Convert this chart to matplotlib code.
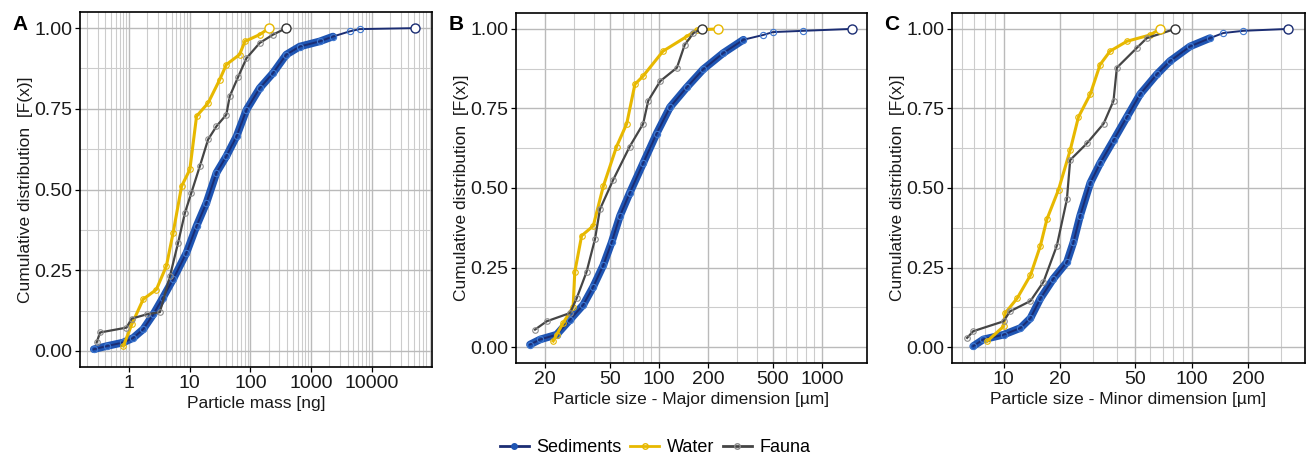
import numpy as np
import matplotlib
matplotlib.use("Agg")
import matplotlib.pyplot as plt
from matplotlib.ticker import FixedLocator, NullFormatter, FixedFormatter
from matplotlib.lines import Line2D

plt.rcParams['font.family'] = ['Liberation Sans', 'DejaVu Sans']

# ---- Panel A: particle mass [ng] ----
mass_sed_x = [0.26, 0.43, 0.8, 1.16, 1.7, 2.49, 3.6, 5.3, 8.8, 12.9, 18.8, 27.5, 40, 59, 86,
              142, 236, 390, 650, 1390, 2300, 4340, 6340, 51000]
mass_sed_f = [0.005, 0.015, 0.026, 0.04, 0.067, 0.113, 0.165, 0.222, 0.304, 0.387, 0.459, 0.552,
              0.603, 0.665, 0.747, 0.814, 0.861, 0.918, 0.943, 0.959, 0.974, 0.99, 0.997, 1.0]
mass_wat_x = [0.8, 1.1, 1.7, 2.8, 4.1, 5.3, 7.3, 10, 12.9, 20, 31, 40, 66, 81, 142, 203]
mass_wat_f = [0.015, 0.082, 0.16, 0.19, 0.263, 0.366, 0.51, 0.562, 0.727, 0.768, 0.84, 0.887,
              0.918, 0.959, 0.98, 1.0]
mass_fau_x = [0.29, 0.33, 0.9, 1.1, 1.93, 3.2, 4.7, 6.4, 8.3, 10.6, 14.6, 20, 27.5, 40, 45.5,
              63, 86, 142, 236, 390]
mass_fau_f = [0.026, 0.057, 0.072, 0.1, 0.113, 0.12, 0.232, 0.335, 0.428, 0.49, 0.572, 0.655,
              0.696, 0.732, 0.789, 0.85, 0.907, 0.954, 0.98, 1.0]

# ---- Panel B: major dimension [um] ----
major_sed_x = [16.2, 18.7, 23.6, 28.5, 34.4, 39.6, 45.6, 51.3, 57.7, 66.2, 80.1, 96.8, 117, 148,
               187, 248, 330, 437, 500, 769, 1524]
major_sed_f = [0.008, 0.024, 0.039, 0.086, 0.133, 0.19, 0.257, 0.329, 0.412, 0.484, 0.578, 0.671,
               0.754, 0.816, 0.873, 0.924, 0.966, 0.981, 0.99, 0.994, 1.0]
major_wat_x = [22.5, 23.6, 25.9, 29.8, 30.5, 33.6, 39.6, 45.6, 55, 63.5, 71.3, 80.1, 106, 148,
               171, 231]
major_wat_f = [0.019, 0.039, 0.076, 0.127, 0.236, 0.35, 0.381, 0.505, 0.63, 0.702, 0.826, 0.852,
               0.93, 0.976, 0.997, 1.0]
major_fau_x = [17.4, 20.5, 28.5, 31.3, 36, 40.6, 43.5, 52.5, 66.2, 80.1, 86, 102, 129, 144, 163, 183]
major_fau_f = [0.055, 0.081, 0.107, 0.153, 0.236, 0.34, 0.433, 0.526, 0.63, 0.702, 0.774, 0.836,
               0.878, 0.95, 0.987, 1.0]

# ---- Panel C: minor dimension [um] ----
minor_sed_x = [6.9, 7.8, 10, 12.3, 13.9, 15.7, 18.4, 21.7, 23.5, 25.5, 28.9, 32.6, 38.4, 45.2,
               53.2, 65.2, 76.7, 98, 125, 147, 188, 326]
minor_sed_f = [0.003, 0.024, 0.039, 0.06, 0.091, 0.153, 0.215, 0.267, 0.329, 0.412, 0.516, 0.578,
               0.65, 0.723, 0.795, 0.857, 0.899, 0.945, 0.971, 0.987, 0.994, 1.0]
minor_wat_x = [8.2, 10, 10.2, 11.8, 13.9, 15.7, 17, 19.6, 22.6, 25, 28.9, 32.6, 36.8, 45.2, 60.1, 67.9]
minor_wat_f = [0.019, 0.065, 0.107, 0.153, 0.226, 0.319, 0.402, 0.495, 0.619, 0.723, 0.795, 0.888,
               0.93, 0.961, 0.981, 1.0]
minor_fau_x = [6.4, 6.9, 10, 10.8, 13.9, 16.3, 19.2, 21.7, 22.6, 27.7, 34, 38.4, 40, 51, 57.7, 81.7]
minor_fau_f = [0.029, 0.05, 0.081, 0.112, 0.145, 0.205, 0.319, 0.464, 0.588, 0.64, 0.702, 0.774,
               0.878, 0.94, 0.971, 1.0]

panel_letters = ["A", "B", "C"]
x_titles = ["Particle mass [ng]", "Particle size - Major dimension [\u00b5m]",
            "Particle size - Minor dimension [\u00b5m]"]
x_ticks = [[1, 10, 100, 1000, 10000], [20, 50, 100, 200, 500, 1000], [10, 20, 50, 100, 200]]
x_ticklabels = [["1", "10", "100", "1000", "10000"],
                ["20", "50", "100", "200", "500", "1000"],
                ["10", "20", "50", "100", "200"]]
x_limits = [(0.154, 98900), (13.3, 1889), (5.32, 400)]
y_ticks = [0.0, 0.25, 0.5, 0.75, 1.0]
y_ticklabels = ["0.00", "0.25", "0.50", "0.75", "1.00"]
series_names = ["Sediments", "Water", "Fauna"]

data = [
    [(mass_sed_x, mass_sed_f), (mass_wat_x, mass_wat_f), (mass_fau_x, mass_fau_f)],
    [(major_sed_x, major_sed_f), (major_wat_x, major_wat_f), (major_fau_x, major_fau_f)],
    [(minor_sed_x, minor_sed_f), (minor_wat_x, minor_wat_f), (minor_fau_x, minor_fau_f)],
]

SED_LINE = "#1b2d73"
SED_PT = "#1f55b3"
WAT = "#e7b800"
FAU_LINE = "#454545"
FAU_PT = "#8c8c8c"

W, H = 1311, 457
fig = plt.figure(figsize=(W / 100, H / 100), dpi=100)

# axes boxes in pixels: left, right, top, bottom
boxes = [(80, 432, 12, 367), (516, 867, 13, 363), (952, 1305, 13, 363)]


def minor_grid_positions(lo, hi, majors):
    pos = []
    for e in range(int(np.floor(np.log10(lo))) - 1, int(np.ceil(np.log10(hi))) + 1):
        for m in range(1, 10):
            v = m * 10.0 ** e
            if lo <= v <= hi and not any(np.isclose(v, mj) for mj in majors):
                pos.append(v)
    return pos


for i, (l, r, t, b) in enumerate(boxes):
    ax = fig.add_axes([l / W, 1 - b / H, (r - l) / W, (b - t) / H])
    ax.set_xscale("log")
    ax.set_xlim(*x_limits[i])
    ax.set_ylim(-0.05, 1.05)

    ax.xaxis.set_major_locator(FixedLocator(x_ticks[i]))
    ax.xaxis.set_major_formatter(FixedFormatter(x_ticklabels[i]))
    ax.xaxis.set_minor_locator(FixedLocator(minor_grid_positions(*x_limits[i], x_ticks[i])))
    ax.xaxis.set_minor_formatter(NullFormatter())
    ax.yaxis.set_major_locator(FixedLocator(y_ticks))
    ax.yaxis.set_major_formatter(FixedFormatter(y_ticklabels))
    ax.yaxis.set_minor_locator(FixedLocator([0.125, 0.375, 0.625, 0.875]))

    ax.grid(which="major", color="#bababa", lw=1.0)
    ax.grid(which="minor", color="#cccccc", lw=0.8)
    ax.set_axisbelow(True)
    ax.tick_params(which="major", length=3.5, width=0.9, color="black",
                   labelsize=14, labelcolor="#1a1a1a", pad=2)
    ax.tick_params(which="minor", length=0)
    for s in ax.spines.values():
        s.set_color("black")
        s.set_linewidth(1.2)

    (sx, sf), (wx, wf), (fx, ff) = data[i]
    sx_a, sf_a = np.asarray(sx), np.asarray(sf)
    dense = sf_a <= 0.975
    # sediments: dense band of points along the main body, sparse tail
    ax.plot(sx_a[dense], sf_a[dense], color=SED_PT, lw=5.5, solid_capstyle="round", zorder=3)
    ax.plot(sx, sf, color=SED_LINE, lw=1.4, zorder=4)
    ax.plot(sx, sf, ls="none", marker="o", ms=4.5, mfc="none",
            mec="#3f78d0", mew=0.8, zorder=4)
    ax.plot(sx[-1], sf[-1], marker="o", ms=6.5, mfc="white", mec=SED_LINE, mew=1.0, zorder=6)
    # water
    ax.plot(wx, wf, color=WAT, lw=2.2, marker="o", ms=4, mfc="none", mec=WAT, mew=0.8, zorder=5)
    ax.plot(wx[-1], wf[-1], marker="o", ms=6.5, mfc="white", mec=WAT, mew=1.0, zorder=6)
    # fauna
    ax.plot(fx, ff, color=FAU_LINE, lw=1.6, zorder=5)
    ax.plot(fx, ff, ls="none", marker="o", ms=4, mfc="none", mec=FAU_PT, mew=0.8, zorder=5)
    ax.plot(fx[-1], ff[-1], marker="o", ms=6.5, mfc="white", mec="#333333", mew=1.0, zorder=6)

    ax.set_xlabel(x_titles[i], fontsize=12.5, color="#1a1a1a", labelpad=3)
    ax.set_ylabel("Cumulative distribution  [F(x)]", fontsize=12.5, color="#1a1a1a", labelpad=1)
    fig.text((l - 60) / W, 1 - 25 / H, panel_letters[i], fontsize=15, fontweight="bold",
             ha="center", va="center")

handles = [
    Line2D([], [], color=SED_LINE, lw=2, marker="o", ms=4, mfc=SED_PT, mec=SED_PT),
    Line2D([], [], color=WAT, lw=2, marker="o", ms=4, mfc="none", mec=WAT),
    Line2D([], [], color=FAU_LINE, lw=2, marker="o", ms=4, mfc="none", mec=FAU_PT),
]
fig.legend(handles, series_names, loc="center", bbox_to_anchor=(655 / W, 1 - 448 / H),
           ncol=3, frameon=False, fontsize=13, handlelength=1.6, handletextpad=0.4,
           columnspacing=0.5)

fig.savefig("out.png", dpi=100, facecolor="white")
